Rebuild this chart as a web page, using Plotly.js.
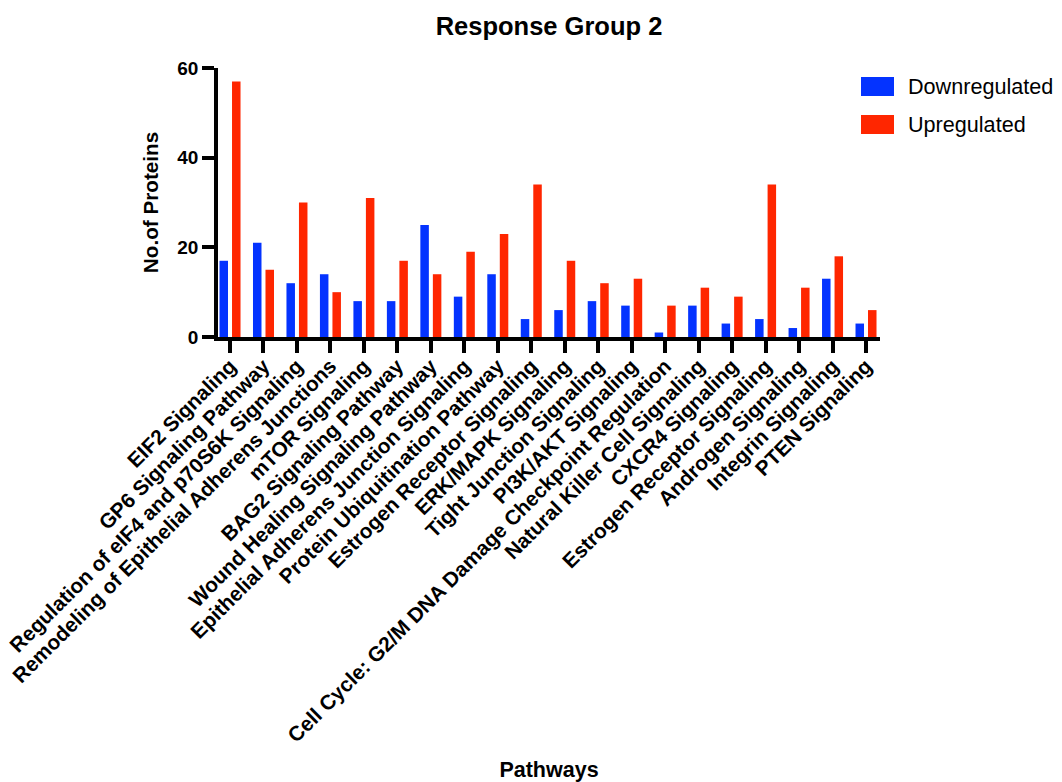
<!DOCTYPE html>
<html>
<head>
<meta charset="utf-8">
<script src="https://cdn.plot.ly/plotly-3.0.1.min.js"></script>
<style>
  html, body { margin: 0; padding: 0; background: #ffffff; }
  #chart { width: 1062px; height: 782px; }
</style>
</head>
<body>
<div id="chart"></div>
<script>
// Pathway categories (Estrogen Receptor Signaling appears twice in the source list)
const pathways = [
  "EIF2 Signaling",
  "GP6 Signaling Pathway",
  "Regulation of eIF4 and p70S6K Signaling",
  "Remodeling of Epithelial Adherens Junctions",
  "mTOR Signaling",
  "BAG2 Signaling Pathway",
  "Wound Healing Signaling Pathway",
  "Epithelial Adherens Junction Signaling",
  "Protein Ubiquitination Pathway",
  "Estrogen Receptor Signaling",
  "ERK/MAPK Signaling",
  "Tight Junction Signaling",
  "PI3K/AKT Signaling",
  "Cell Cycle: G2/M DNA Damage Checkpoint Regulation",
  "Natural Killer Cell Signaling",
  "CXCR4 Signaling",
  "Estrogen Receptor Signaling",
  "Androgen Signaling",
  "Integrin Signaling",
  "PTEN Signaling"
];

// Number of proteins per pathway
const downregulated = [17, 21, 12, 14, 8, 8, 25, 9, 14, 4, 6, 8, 7, 1, 7, 3, 4, 2, 13, 3];
const upregulated   = [57, 15, 30, 10, 31, 17, 14, 19, 23, 34, 17, 12, 13, 7, 11, 9, 34, 11, 18, 6];

const seriesNames = ["Downregulated", "Upregulated"];
const seriesColors = ["#0433FF", "#FF2600"];

const yTicks = [0, 20, 40, 60];

// Numeric slots keep the duplicated pathway name on its own tick
const slots = pathways.map((_, i) => i);

const FONT = "Liberation Sans, Arial, Helvetica, sans-serif";
const W = 1062, H = 782;
const M = { l: 218, r: 182, t: 68, b: 445 };
const plotW = W - M.l - M.r;
const plotH = H - M.t - M.b;

// pixel -> paper helpers for the hand-drawn legend
const px = x => (x - M.l) / plotW;
const py = y => 1 - (y - M.t) / plotH;

const traces = [downregulated, upregulated].map((vals, k) => ({
  type: "bar",
  name: seriesNames[k],
  x: slots,
  y: vals,
  marker: { color: seriesColors[k], line: { width: 0 } },
  showlegend: false,
  hoverinfo: "x+y+name"
}));

// Legend: swatch rectangles plus labels
const shapes = [];
const annotations = [];
seriesNames.forEach((name, k) => {
  const top = 77 + k * 38;
  shapes.push({
    type: "rect", xref: "paper", yref: "paper",
    x0: px(861), x1: px(894), y0: py(top + 19), y1: py(top),
    fillcolor: seriesColors[k], line: { width: 0 }
  });
  annotations.push({
    xref: "paper", yref: "paper",
    x: px(906), y: py(top + 9.5),
    xanchor: "left", yanchor: "middle",
    text: name, showarrow: false,
    font: { family: FONT, size: 21.6, color: "#000000" }
  });
});

const layout = {
  width: W, height: H,
  margin: M,
  paper_bgcolor: "#ffffff",
  plot_bgcolor: "#ffffff",
  barmode: "group",
  bargap: 0.253,
  bargroupgap: 0.32,
  title: {
    text: "Response Group 2",
    font: { family: FONT, size: 25.5, weight: "bold", color: "#000000" },
    x: px(549), xref: "paper", xanchor: "center",
    y: 1 - 26 / H, yref: "container", yanchor: "middle"
  },
  xaxis: {
    range: [-0.359, 19.418],
    tickmode: "array",
    tickvals: slots,
    ticktext: pathways,
    tickangle: -45,
    ticklabelstandoff: -7,
    ticks: "outside", ticklen: 12, tickwidth: 3.5, tickcolor: "#000000",
    showline: true, linewidth: 3.5, linecolor: "#000000",
    showgrid: false, zeroline: false,
    tickfont: { family: FONT, size: 20.8, weight: "bold", color: "#000000" },
    title: {
      text: "Pathways",
      font: { family: FONT, size: 21.5, weight: "bold", color: "#000000" },
      standoff: 31
    },
    automargin: false,
    fixedrange: true
  },
  yaxis: {
    range: [0, 60],
    tickmode: "array",
    tickvals: yTicks,
    ticktext: yTicks.map(String),
    ticks: "outside", ticklen: 12, tickwidth: 3.5, tickcolor: "#000000",
    showline: true, linewidth: 3.5, linecolor: "#000000",
    showgrid: false, zeroline: false,
    tickfont: { family: FONT, size: 19, weight: "bold", color: "#000000" },
    title: {
      text: "No.of Proteins",
      font: { family: FONT, size: 20.7, weight: "bold", color: "#000000" },
      standoff: 14
    },
    automargin: false,
    fixedrange: true
  },
  shapes: shapes,
  annotations: annotations,
  showlegend: false
};

Plotly.newPlot("chart", traces, layout, { displayModeBar: false, responsive: false });
</script>
</body>
</html>
